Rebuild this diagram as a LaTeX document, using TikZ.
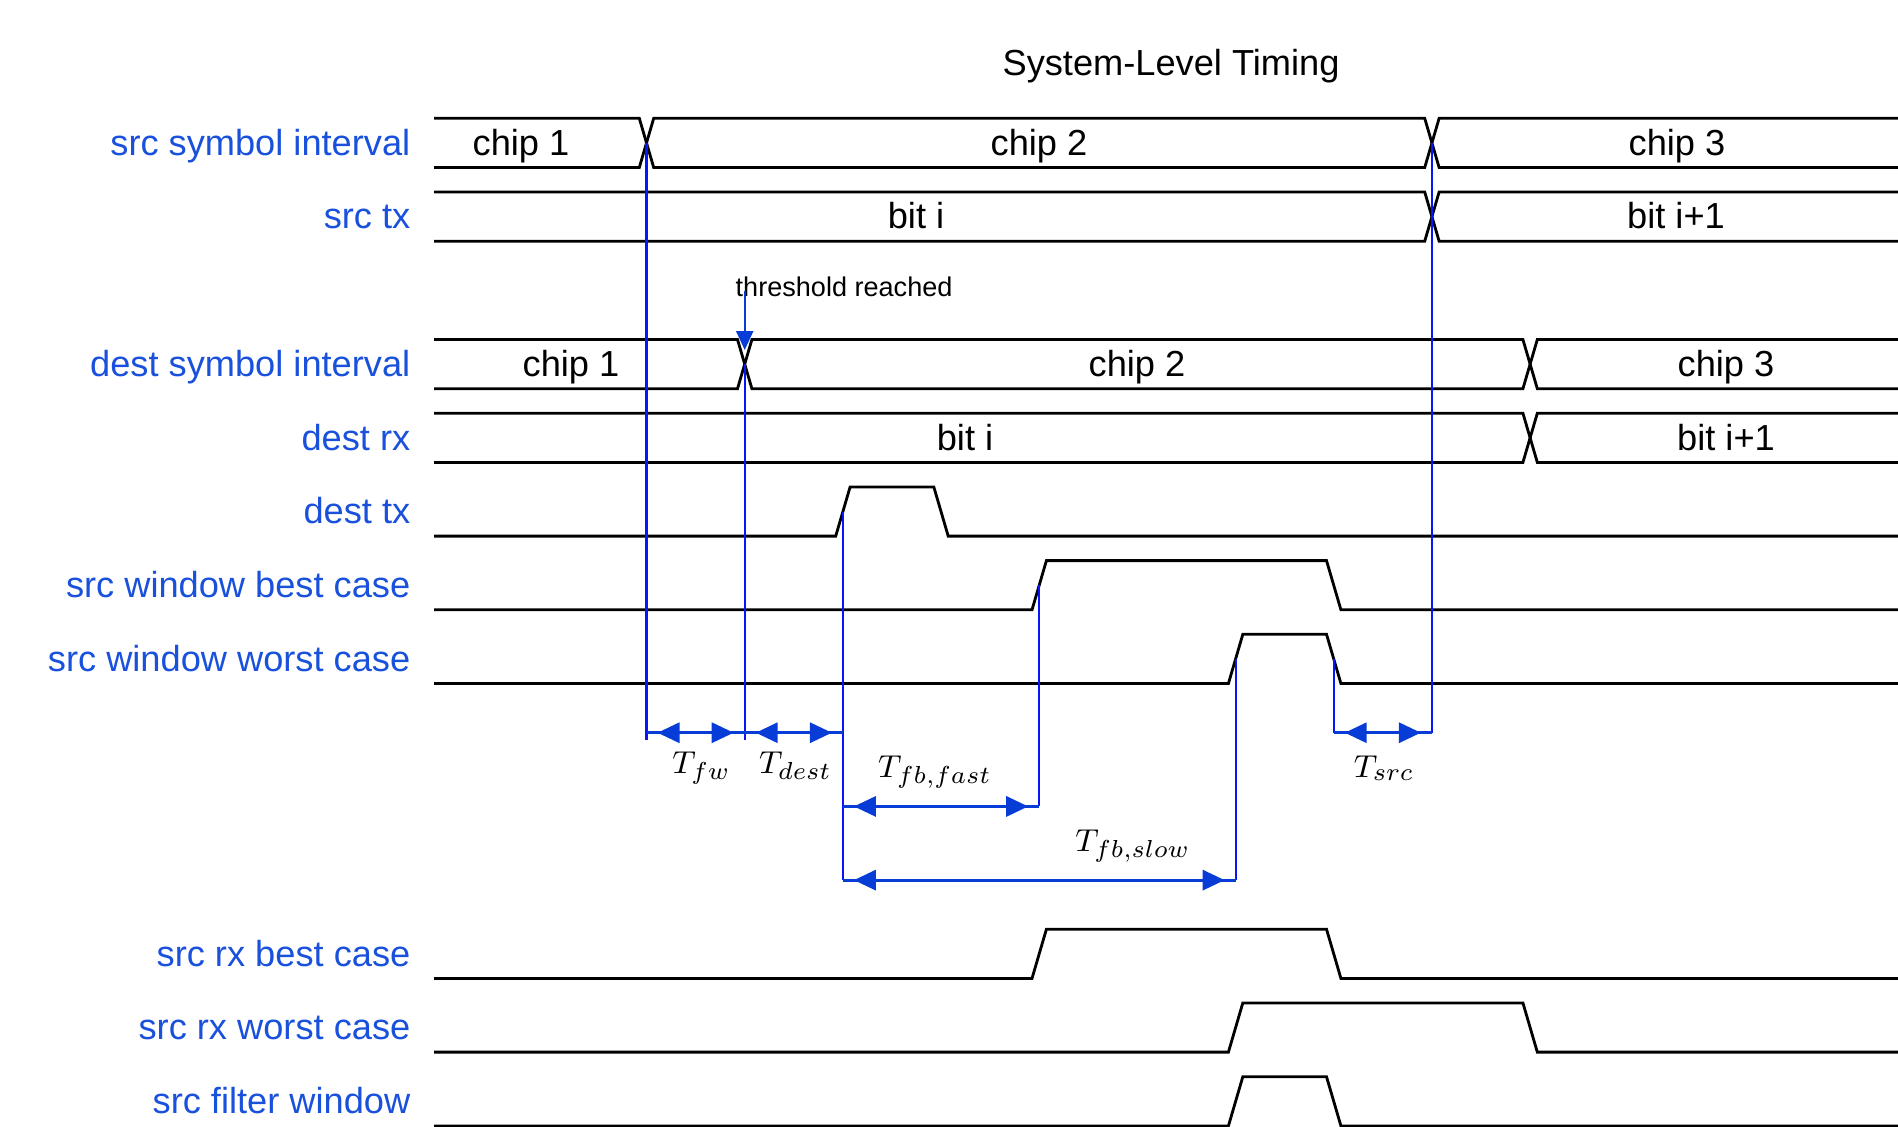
\documentclass[tikz,border=0pt]{standalone}
\usepackage{fontspec}
\setmainfont{Liberation Sans}
\usetikzlibrary{arrows.meta}
\definecolor{lblblue}{RGB}{25,80,220}
\definecolor{guideblue}{RGB}{10,20,250}
\definecolor{dimblue}{RGB}{8,60,215}

\begin{document}
\begin{tikzpicture}[
        x=0.01cm, y=-0.01cm,
        sig/.style={line width=0.8pt, line join=miter},
        rowlabel/.style={anchor=base east, inner sep=0pt, text=lblblue, font=\fontsize{10.3}{12}\selectfont},
        busval/.style={anchor=base, inner sep=0pt, font=\fontsize{10.3}{12}\selectfont},
        guide/.style={draw=guideblue, line width=0.6pt},
        dimarrow/.style={draw=dimblue, line width=0.9pt, postaction={draw=dimblue, {Triangle[length=0.22cm, width=0.2cm]}-{Triangle[length=0.22cm, width=0.2cm]}, shorten <=0.11cm, shorten >=0.11cm}},
        dimlabel/.style={anchor=base, inner sep=0pt, font=\fontsize{9.5}{11}\selectfont},
        note/.style={anchor=base west, inner sep=0pt, font=\fontsize{7.7}{9}\selectfont},
        notearrow/.style={draw=dimblue, line width=0.6pt, -{Triangle[length=0.19cm, width=0.17cm]}}
    ]
    \useasboundingbox (0,0) rectangle (1898,1126);

    \node[busval] (Title) at (1171,75) {System-Level Timing};

    % row labels
    \node[rowlabel] (LSrcSym) at (411,155.2) {src symbol interval};
    \node[rowlabel] (LSrcTx) at (411,228.9) {src tx};
    \node[rowlabel] (LDestSym) at (411,376.4) {dest symbol interval};
    \node[rowlabel] (LDestRx) at (411,450.1) {dest rx};
    \node[rowlabel] (LDestTx) at (411,523.8) {dest tx};
    \node[rowlabel] (LWinBest) at (411,597.5) {src window best case};
    \node[rowlabel] (LWinWorst) at (411,671.2) {src window worst case};
    \node[rowlabel] (LRxBest) at (411,966.1) {src rx best case};
    \node[rowlabel] (LRxWorst) at (411,1039.8) {src rx worst case};
    \node[rowlabel] (LFilter) at (411,1113.6) {src filter window};

    % bus signals
    \draw[sig] (434,118.3) -- (639.3,118.3) -- (653.7,167.5) -- (1424.7,167.5) -- (1439.1,118.3) -- (1898,118.3);
    \draw[sig] (434,167.5) -- (639.3,167.5) -- (653.7,118.3) -- (1424.7,118.3) -- (1439.1,167.5) -- (1898,167.5);
    \draw[sig] (434,192) -- (1424.7,192) -- (1439.1,241.2) -- (1898,241.2);
    \draw[sig] (434,241.2) -- (1424.7,241.2) -- (1439.1,192) -- (1898,192);
    \draw[sig] (434,339.5) -- (737.5,339.5) -- (751.9,388.7) -- (1522.9,388.7) -- (1537.3,339.5) -- (1898,339.5);
    \draw[sig] (434,388.7) -- (737.5,388.7) -- (751.9,339.5) -- (1522.9,339.5) -- (1537.3,388.7) -- (1898,388.7);
    \draw[sig] (434,413.2) -- (1522.9,413.2) -- (1537.3,462.4) -- (1898,462.4);
    \draw[sig] (434,462.4) -- (1522.9,462.4) -- (1537.3,413.2) -- (1898,413.2);

    \node[busval] (SChip1) at (521,155.2) {chip 1};
    \node[busval] (SChip2) at (1039,155.2) {chip 2};
    \node[busval] (SChip3) at (1677,155.2) {chip 3};
    \node[busval] (SBit) at (916,228.9) {bit i};
    \node[busval] (SBitNext) at (1676,228.9) {bit i+1};
    \node[busval] (DChip1) at (571,376.4) {chip 1};
    \node[busval] (DChip2) at (1137,376.4) {chip 2};
    \node[busval] (DChip3) at (1726,376.4) {chip 3};
    \node[busval] (DBit) at (965,450.1) {bit i};
    \node[busval] (DBitNext) at (1726,450.1) {bit i+1};

    % pulse signals
    \draw[sig] (434,536.1) -- (835.7,536.1) -- (850.1,486.9) -- (933.8,486.9) -- (948.2,536.1) -- (1898,536.1);
    \draw[sig] (434,609.8) -- (1032,609.8) -- (1046.4,560.6) -- (1326.5,560.6) -- (1340.9,609.8) -- (1898,609.8);
    \draw[sig] (434,683.5) -- (1228.4,683.5) -- (1242.8,634.3) -- (1326.5,634.3) -- (1340.9,683.5) -- (1898,683.5);
    \draw[sig] (434,978.4) -- (1032,978.4) -- (1046.4,929.2) -- (1326.5,929.2) -- (1340.9,978.4) -- (1898,978.4);
    \draw[sig] (434,1052.1) -- (1228.4,1052.1) -- (1242.8,1002.9) -- (1522.9,1002.9) -- (1537.3,1052.1) -- (1898,1052.1);
    \draw[sig] (434,1125.9) -- (1228.4,1125.9) -- (1242.8,1076.7) -- (1326.5,1076.7) -- (1340.9,1125.9) -- (1898,1125.9);

    % edges and measure points
    \coordinate (XSrc) at (646.5,142.9);
    \coordinate (XDest) at (744.7,364.1);
    \coordinate (TxRise) at (842.9,511.5);
    \coordinate (BestRise) at (1039.2,585.2);
    \coordinate (WorstRise) at (1235.6,658.9);
    \coordinate (WorstFall) at (1333.7,658.9);
    \coordinate (XSrcNext) at (1431.9,142.9);
    \coordinate (FwL) at (646.5,732.7);
    \coordinate (FwR) at (744.7,732.7);
    \coordinate (DestR) at (842.9,732.7);
    \coordinate (FastL) at (842.9,806.4);
    \coordinate (FastR) at (1039.2,806.4);
    \coordinate (SlowL) at (842.9,880.1);
    \coordinate (SlowR) at (1235.6,880.1);
    \coordinate (SrcL) at (1333.7,732.7);
    \coordinate (SrcR) at (1431.9,732.7);

    \draw[guide] (XSrc) -- ([yshift=-0.075cm]FwL);
    \draw[guide] (XDest) -- ([yshift=-0.075cm]FwR);
    \draw[guide] (TxRise) -- (SlowL);
    \draw[guide] (BestRise) -- (FastR);
    \draw[guide] (WorstRise) -- (SlowR);
    \draw[guide] (WorstFall) -- (SrcL);
    \draw[guide] (XSrcNext) -- (SrcR);

    \node[note] (Thr) at (735,296.7) {threshold reached};
    \coordinate (ThrTop) at (744.7,291);
    \coordinate (ThrTip) at (744.7,350);
    \draw[notearrow] (ThrTop) -- (ThrTip);

    \draw[dimarrow] (FwL) -- (FwR);
    \draw[dimarrow] (FwR) -- (DestR);
    \draw[dimarrow] (FastL) -- (FastR);
    \draw[dimarrow] (SlowL) -- (SlowR);
    \draw[dimarrow] (SrcL) -- (SrcR);

    \node[dimlabel] (Tfw) at (701.5,773.3) {$T_{fw}$};
    \node[dimlabel] (Tdest) at (795.5,773.3) {$T_{dest}$};
    \node[dimlabel] (Tfast) at (935,777) {$T_{fb,fast}$};
    \node[dimlabel] (Tslow) at (1133,851.7) {$T_{fb,slow}$};
    \node[dimlabel] (Tsrc) at (1384,777) {$T_{src}$};

\end{tikzpicture}
\end{document}
